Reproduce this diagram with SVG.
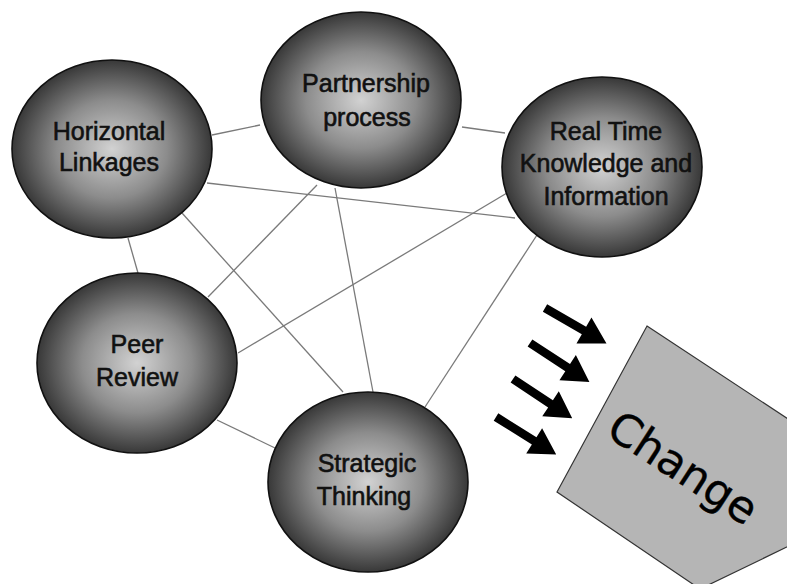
<svg xmlns="http://www.w3.org/2000/svg" width="787" height="584" viewBox="0 0 787 584">
<style>
.node{fill:url(#ball);stroke:#111;stroke-width:1.6}
.lbl{font-family:"Liberation Sans",Arial,sans-serif;font-size:25px;fill:#111;text-anchor:middle;stroke:#111;stroke-width:0.6}
.conn line{stroke:#7a7a7a;stroke-width:1.3}
.arrow{fill:#000}
</style>
<defs>
<radialGradient id="ball" cx="50%" cy="50%" r="50%">
<stop offset="0%" stop-color="#d2d2d2"/>
<stop offset="55%" stop-color="#8c8c8c"/>
<stop offset="100%" stop-color="#383838"/>
</radialGradient>
<path id="arr" d="M0,-4.3 L45,-4.3 L45,-15 L71,0 L45,15 L45,4.3 L0,4.3 Z"/>
</defs>
<rect width="787" height="584" fill="#fff"/>
<g id="connectors" class="conn">
<line x1="212" y1="135" x2="260" y2="125"/>
<line x1="462" y1="127" x2="505" y2="133"/>
<line x1="207" y1="183" x2="515" y2="218"/>
<line x1="128" y1="238" x2="138" y2="273"/>
<line x1="317" y1="185" x2="208" y2="297"/>
<line x1="182" y1="213" x2="343" y2="392"/>
<line x1="335" y1="188" x2="373" y2="392"/>
<line x1="507" y1="193" x2="238" y2="353"/>
<line x1="537" y1="235" x2="425" y2="407"/>
<line x1="217" y1="420" x2="275" y2="448"/>
</g>
<g id="horizontal-linkages">
<ellipse class="node" cx="112" cy="149" rx="100" ry="89"/>
<text class="lbl" x="109" y="140">Horizontal</text>
<text class="lbl" x="109" y="171">Linkages</text>
</g>
<g id="partnership-process">
<ellipse class="node" cx="361" cy="100" rx="100" ry="88"/>
<text class="lbl" x="366" y="92">Partnership</text>
<text class="lbl" x="367" y="126">process</text>
</g>
<g id="real-time">
<ellipse class="node" cx="602" cy="167" rx="100" ry="90"/>
<text class="lbl" x="606" y="140">Real Time</text>
<text class="lbl" x="606" y="172">Knowledge and</text>
<text class="lbl" x="606" y="205">Information</text>
</g>
<g id="peer-review">
<ellipse class="node" cx="137" cy="363" rx="100" ry="90"/>
<text class="lbl" x="137" y="353">Peer</text>
<text class="lbl" x="137" y="386">Review</text>
</g>
<g id="strategic-thinking">
<ellipse class="node" cx="368" cy="482" rx="100" ry="90"/>
<text class="lbl" x="367" y="472">Strategic</text>
<text class="lbl" x="364" y="505">Thinking</text>
</g>
<g id="change">
<polygon points="647,326 820,440 820,531 700,589 557,492" fill="#b5b5b5" stroke="#333" stroke-width="1.2"/>
<text x="0" y="15" transform="translate(683,468) rotate(33)" font-family="DejaVu Sans,Verdana,sans-serif" font-size="44" fill="#000" stroke="#000" stroke-width="0.4" text-anchor="middle">Change</text>
</g>
<g id="arrows" class="arrow">
<use href="#arr" transform="translate(545,308) rotate(30)"/>
<use href="#arr" transform="translate(530,343) rotate(33.2)"/>
<use href="#arr" transform="translate(513,379) rotate(33.5)"/>
<use href="#arr" transform="translate(496,417) rotate(32)"/>
</g>
</svg>
